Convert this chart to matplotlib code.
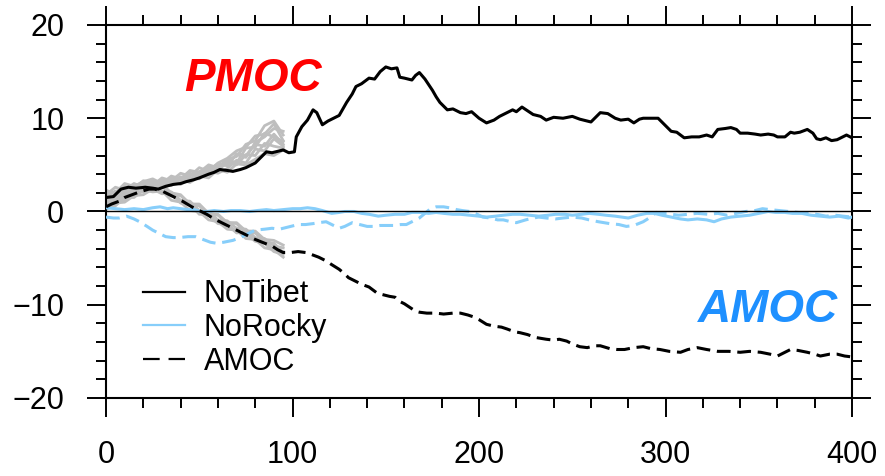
import matplotlib
matplotlib.use("Agg")
import matplotlib.pyplot as plt
from matplotlib.lines import Line2D

plt.rcParams['font.family'] = ['Liberation Sans', 'DejaVu Sans']

# NoTibet PMOC (solid black)
pmoc_tib_yr = [0, 4, 8, 12, 16, 21, 25, 28, 32, 36, 40, 43, 47, 50, 55, 58, 61, 65, 68, 72,
               75, 80, 83, 86, 89, 91, 95, 98, 101, 102, 105, 108, 111, 113, 116, 119, 122, 125,
               129, 132, 134, 137, 141, 144, 147, 150, 153, 156, 157.5, 160, 164, 166, 168, 171,
               175, 177, 179, 183, 186, 190, 193, 196, 200, 204, 208, 211, 215, 218, 220, 223,
               226, 229, 233, 236, 240, 245, 250, 254, 258, 260, 263, 265, 269, 273, 276, 280,
               283, 286, 288, 292, 296, 300, 303, 306, 310, 314, 318, 322, 325, 328, 332, 335,
               338, 340, 344, 348, 351, 355, 358, 360, 364, 367, 369, 372, 376, 379, 381, 383,
               386, 389, 392, 395, 397, 400]
pmoc_tib = [1.5, 1.6, 2.4, 2.6, 2.5, 2.6, 2.5, 2.4, 2.7, 2.9, 3.0, 3.2, 3.4, 3.6, 4.0, 4.2, 4.5,
            4.4, 4.3, 4.5, 4.7, 5.2, 5.8, 6.4, 6.3, 6.4, 6.6, 6.3, 6.4, 8.0, 9.1, 9.8, 10.9, 10.6,
            9.3, 9.7, 10.0, 10.3, 11.7, 12.6, 13.4, 13.7, 14.3, 14.2, 15.0, 15.5, 15.3, 15.4, 14.4,
            14.3, 14.1, 14.6, 14.9, 14.2, 13.0, 12.3, 11.7, 10.9, 11.0, 10.6, 10.5, 10.7, 10.0,
            9.5, 9.8, 10.2, 10.6, 10.9, 10.7, 11.2, 10.8, 10.4, 10.2, 9.8, 10.1, 10.0, 10.2, 9.9,
            9.7, 9.6, 10.2, 10.6, 10.5, 10.0, 9.8, 9.9, 9.5, 9.9, 10.0, 10.0, 10.0, 9.2, 8.6, 8.5,
            7.9, 8.0, 8.0, 8.2, 8.0, 8.8, 8.9, 9.0, 8.8, 8.4, 8.4, 8.3, 8.2, 8.3, 8.2, 8.0, 8.0,
            8.5, 8.4, 8.5, 8.8, 8.4, 7.8, 7.7, 7.9, 7.6, 7.7, 8.0, 8.2, 7.9]

# NoTibet AMOC (dashed black)
amoc_tib_yr = [0, 3, 7, 10, 14, 18, 23, 26, 30, 34, 37, 41, 46, 50, 54, 58, 62, 66, 71, 75, 80,
               85, 89, 92, 95, 99, 103, 107, 110, 114, 118, 121, 125, 128, 130, 134, 137, 141,
               145, 148, 152, 155, 157, 160, 163, 166, 168, 172, 177, 181, 186, 190, 194, 197,
               200, 204, 208, 212, 215, 219, 222, 226, 230, 233, 236, 240, 243, 247, 250, 254,
               258, 262, 265, 270, 274, 278, 283, 288, 292, 297, 302, 308, 312, 317, 322, 328,
               334, 340, 345, 351, 356, 360, 364, 367, 371, 376, 380, 383, 388, 392, 396, 400]
amoc_tib = [0.5, 0.8, 1.1, 1.5, 1.8, 2.1, 2.4, 2.4, 2.2, 1.8, 1.5, 1.1, 0.5, 0.1, -0.3, -0.8,
            -1.2, -1.6, -2.1, -2.5, -3.0, -3.4, -3.7, -4.1, -4.4, -4.4, -4.3, -4.4, -4.6, -4.9,
            -5.3, -5.7, -6.2, -6.7, -7.1, -7.5, -7.8, -8.1, -8.7, -8.9, -9.1, -9.2, -9.6, -9.9,
            -10.3, -10.7, -10.8, -10.9, -10.9, -11.0, -10.9, -10.9, -11.1, -11.3, -11.6, -12.1,
            -12.3, -12.4, -12.6, -12.9, -13.0, -13.2, -13.5, -13.6, -13.7, -13.8, -13.7, -13.9,
            -14.2, -14.5, -14.6, -14.4, -14.4, -14.7, -14.8, -14.8, -14.6, -14.5, -14.7, -14.8,
            -15.0, -15.1, -14.8, -14.6, -14.8, -15.0, -15.0, -15.1, -15.0, -15.1, -15.3, -15.5,
            -15.1, -14.8, -14.9, -15.1, -15.3, -15.5, -15.3, -15.3, -15.5, -15.6]

# NoRocky PMOC (solid light blue)
pmoc_rock_yr = [0, 5, 10, 15, 20, 25, 29, 33, 36, 40, 44, 47, 51, 54, 58, 63, 67, 72, 77, 81,
                86, 90, 95, 100, 104, 108, 112, 116, 121, 125, 128, 133, 137, 141, 146, 150, 155,
                160, 164, 168, 173, 177, 181, 186, 190, 195, 200, 204, 209, 213, 218, 222, 227,
                232, 237, 241, 246, 250, 255, 259, 264, 268, 273, 280, 285, 290, 294, 298, 303,
                308, 312, 317, 322, 326, 330, 335, 340, 345, 350, 355, 359, 364, 368, 373, 378,
                383, 388, 393, 398, 400]
pmoc_rock = [0.4, 0.3, 0.2, 0.3, 0.2, 0.4, 0.5, 0.3, 0.4, 0.3, 0.2, 0.2, 0.0, 0.0, 0.1, 0.0,
             0.1, 0.1, 0.0, 0.1, 0.2, 0.1, 0.2, 0.3, 0.3, 0.4, 0.3, 0.1, -0.2, -0.1, 0.0, 0.0,
             -0.2, -0.3, -0.5, -0.4, -0.3, -0.3, -0.1, -0.1, -0.2, -0.1, -0.2, -0.3, -0.3, -0.4,
             -0.5, -0.6, -0.5, -0.4, -0.3, -0.3, -0.4, -0.5, -0.4, -0.3, -0.3, -0.4, -0.3, -0.2,
             -0.3, -0.4, -0.5, -0.7, -0.4, -0.2, -0.2, -0.4, -0.6, -0.8, -0.9, -0.8, -0.9, -1.1,
             -0.8, -0.6, -0.5, -0.4, -0.2, 0.0, -0.1, -0.1, -0.2, -0.2, -0.4, -0.5, -0.6, -0.5,
             -0.7, -0.6]

# NoRocky AMOC (dashed light blue)
amoc_rock_yr = [0, 4, 7, 11, 15, 18, 22, 25, 29, 32, 36, 39, 44, 48, 52, 56, 59, 63, 68, 72,
                75, 78, 80, 85, 89, 93, 97, 101, 104, 107, 111, 114, 118, 121, 125, 128, 132,
                136, 140, 143, 147, 151, 154, 158, 161, 164, 168, 171, 174, 177, 181, 184, 188,
                191, 195, 199, 202, 206, 210, 213, 217, 220, 225, 229, 232, 236, 241, 245, 250,
                255, 259, 264, 270, 275, 279, 283, 288, 292, 295, 299, 303, 307, 312, 317, 323,
                328, 333, 338, 343, 348, 352, 356, 361, 366, 371, 376, 381, 386, 391, 395, 400]
amoc_rock = [-0.6, -0.7, -0.7, -0.5, -0.8, -1.1, -1.6, -2.0, -2.4, -2.7, -2.8, -2.8, -2.7, -2.7,
             -3.0, -3.3, -3.4, -3.3, -3.1, -2.8, -2.5, -2.2, -2.0, -1.9, -1.8, -1.9, -1.7, -1.5,
             -1.4, -1.4, -1.3, -1.2, -1.1, -1.4, -1.8, -1.6, -1.2, -1.4, -1.6, -1.6, -1.5, -1.5,
             -1.5, -1.4, -1.4, -1.1, -0.7, -0.2, 0.3, 0.5, 0.5, 0.4, 0.2, 0.1, 0.0, -0.3, -0.6,
             -0.7, -0.9, -0.9, -1.1, -1.2, -0.9, -0.7, -0.6, -0.7, -0.8, -0.7, -0.6, -0.7, -0.9,
             -1.1, -1.3, -1.4, -1.6, -1.5, -1.1, -0.6, -0.1, -0.2, -0.3, -0.4, -0.3, -0.2, -0.3,
             -0.2, -0.4, -0.2, 0.0, 0.1, 0.3, 0.2, 0.1, 0.0, -0.1, -0.2, -0.3, -0.5, -0.4, -0.5,
             -0.6]

# ensemble members (grey), years 0-95
member_yr = [0, 5, 10, 15, 20, 25, 30, 35, 40, 45, 50, 55, 60, 65, 70, 75, 80, 85, 90, 95]
pmoc_members = [
    [1.8, 2.6, 2.3, 3.0, 2.6, 3.2, 2.9, 3.6, 3.3, 4.1, 3.9, 4.8, 4.6, 5.6, 5.9, 7.2, 7.6, 9.2, 9.7, 8.2],
    [1.2, 1.7, 2.6, 2.3, 3.1, 2.8, 3.4, 3.1, 3.7, 3.4, 4.3, 4.0, 4.9, 5.0, 6.1, 5.8, 7.4, 8.0, 8.9, 8.6],
    [0.8, 1.8, 1.7, 2.6, 2.3, 3.0, 2.6, 3.3, 2.9, 3.6, 3.5, 4.3, 4.1, 4.6, 5.5, 5.2, 6.7, 6.5, 7.8, 7.0],
    [2.1, 2.0, 3.0, 2.7, 3.2, 3.5, 3.0, 3.8, 3.5, 4.4, 4.2, 5.0, 4.7, 5.6, 5.2, 6.8, 6.9, 8.4, 8.0, 7.5],
    [1.5, 2.2, 1.9, 2.5, 2.8, 2.4, 3.2, 2.8, 3.5, 3.1, 3.8, 3.6, 4.5, 4.2, 5.1, 5.0, 5.6, 6.2, 6.0, 6.6],
    [1.0, 1.4, 2.4, 2.1, 3.2, 2.8, 3.6, 3.3, 4.1, 3.8, 4.7, 4.3, 5.2, 5.7, 6.5, 6.9, 8.1, 8.3, 9.4, 7.6],
    [0.5, 1.3, 1.6, 2.5, 2.4, 3.3, 3.0, 3.2, 3.7, 3.5, 4.0, 4.6, 4.4, 5.3, 5.0, 6.1, 6.0, 7.3, 7.0, 6.8],
    [2.3, 1.8, 2.7, 2.5, 3.3, 3.1, 3.2, 3.5, 3.4, 4.0, 3.8, 4.5, 5.1, 4.9, 6.2, 6.0, 7.2, 7.0, 8.3, 7.2],
]
amoc_members = [
    [1.0, 1.8, 1.8, 2.7, 2.6, 2.9, 2.1, 2.1, 1.2, 1.1, 0.1, 0.0, -0.9, -1.0, -1.8, -1.9, -2.8, -2.9, -3.7, -3.9],
    [0.3, 0.6, 1.5, 1.5, 2.3, 2.1, 2.2, 1.2, 1.0, 0.1, 0.0, -0.9, -1.1, -1.9, -2.0, -2.9, -3.0, -3.9, -4.1, -4.9],
    [1.5, 1.1, 2.0, 2.0, 2.8, 2.7, 2.9, 2.0, 1.8, 0.8, 0.8, -0.2, -0.3, -1.2, -1.3, -2.3, -2.3, -3.3, -3.4, -4.4],
    [0.6, 1.3, 1.2, 2.1, 2.1, 2.6, 2.0, 1.9, 1.0, 0.7, -0.2, -0.4, -1.3, -1.4, -2.3, -2.2, -3.1, -3.2, -4.1, -4.3],
    [0.9, 1.2, 2.1, 2.1, 2.7, 2.5, 2.7, 1.8, 1.7, 0.8, 0.6, -0.3, -0.4, -1.2, -1.2, -2.1, -2.1, -3.0, -3.1, -3.6],
    [0.2, 0.9, 1.0, 1.7, 1.8, 2.4, 1.9, 2.0, 0.9, 0.8, -0.3, -0.3, -1.2, -1.3, -2.2, -2.4, -3.2, -3.4, -4.3, -4.6],
]

blue = '#87CEFA'
grey = '#BEBEBE'
lw = 2.2
dash = (4.5, 2.2)

fig = plt.figure(figsize=(8.85, 4.76), dpi=100)
ax = fig.add_axes([0.1198, 0.1639, 0.843, 0.7836])

for m in pmoc_members + amoc_members:
    ax.plot(member_yr, m, color=grey, lw=2.0, zorder=2)

ax.plot(pmoc_rock_yr, pmoc_rock, color=blue, lw=lw, zorder=3)
ax.plot(amoc_rock_yr, amoc_rock, color=blue, lw=lw, dashes=dash, zorder=3)
ax.plot(pmoc_tib_yr, pmoc_tib, color='black', lw=lw, zorder=4)
ax.plot(amoc_tib_yr, amoc_tib, color='black', lw=lw, dashes=dash, zorder=4)
ax.axhline(0, color='black', lw=1.0, zorder=5)

ax.set_xlim(0, 400)
ax.set_ylim(-20, 20)
ax.set_xticks([0, 100, 200, 300, 400])
ax.set_xticks(range(0, 401, 20), minor=True)
ax.set_yticks([-20, -10, 0, 10, 20])
ax.set_yticks(range(-20, 21, 2), minor=True)
ax.tick_params(which='both', direction='out', top=True, right=True, width=1.4,
               labelsize=22, pad=16)
ax.tick_params(which='major', length=14)
ax.tick_params(which='minor', length=7)
for s in ax.spines.values():
    s.set_linewidth(1.5)

ax.text(79, 14.2, 'PMOC', color='red', fontsize=33, fontweight='bold', fontstyle='italic',
        ha='center', va='center')
ax.text(355, -10.6, 'AMOC', color='#1E90FF', fontsize=33, fontweight='bold', fontstyle='italic',
        ha='center', va='center')

handles = [Line2D([], [], color='black', lw=1.6),
           Line2D([], [], color=blue, lw=1.6),
           Line2D([], [], color='black', lw=1.6, dashes=(7.5, 4))]
ax.legend(handles, ['NoTibet', 'NoRocky', 'AMOC'], loc='upper left',
          bbox_to_anchor=(0.05, 0.318), frameon=False, fontsize=22, handlelength=1.37,
          handletextpad=0.6, labelspacing=0.12, borderpad=0, borderaxespad=0)

fig.savefig('out.png', dpi=100)
